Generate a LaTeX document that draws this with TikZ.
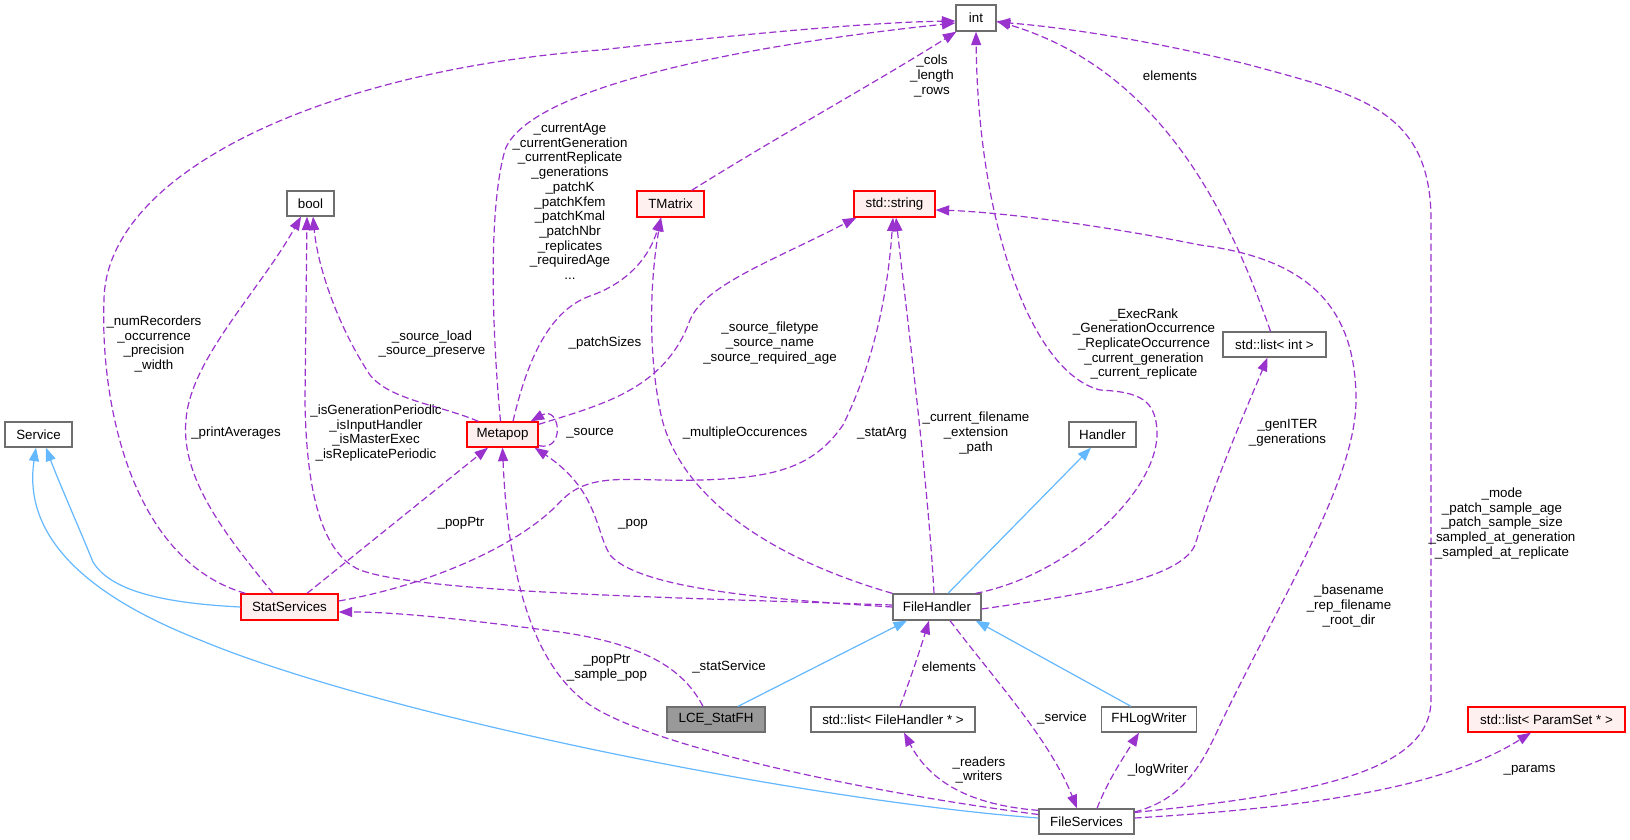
\documentclass[tikz,border=0pt]{standalone}
\usepackage{fontspec}
\setmainfont{Liberation Sans}
\usetikzlibrary{arrows.meta,calc}
\definecolor{edgepurple}{HTML}{9A32CD}
\definecolor{inhblue}{HTML}{63B8FF}
\definecolor{boxgray}{HTML}{6E6E6E}
\definecolor{redfill}{HTML}{FFF0F0}
\definecolor{mainfill}{HTML}{999999}
\begin{document}
\begin{tikzpicture}[x=1pt,y=-1pt,
  every node/.style={font=\fontsize{13.33}{14.7}\selectfont, inner sep=0pt},
  graybox/.style={draw=boxgray, line width=1.3pt, fill=white, minimum height=25pt},
  redbox/.style={draw=red, line width=1.3pt, fill=redfill, minimum height=25pt},
  mainbox/.style={draw=boxgray, line width=1.3pt, fill=mainfill, minimum height=25pt},
  depedge/.style={draw=edgepurple, line width=1.2pt, dash pattern=on 7pt off 3.5pt, -{Triangle[length=13.5pt,width=10pt]}},
  inhedge/.style={draw=inhblue, line width=1.2pt, -{Triangle[length=13.5pt,width=10pt]}},
  lbl/.style={align=center, text=black}
]
\fill[white] (0,0) rectangle (1630,840);
\useasboundingbox (0,0) rectangle (1630,840);

% nodes
\node[graybox, minimum width=40pt, minimum height=26pt] (int) at (976,18) {int};
\node[graybox, minimum width=47pt] (bool) at (310.5,203.5) {bool};
\node[redbox, minimum width=67pt, minimum height=26pt] (tmatrix) at (670.5,204) {TMatrix};
\node[redbox, minimum width=81pt, minimum height=26pt] (string) at (894.5,204) {std::string};
\node[graybox, minimum width=67pt] (service) at (38.5,434.5) {Service};
\node[redbox, minimum width=97pt, minimum height=26pt] (stat) at (289.5,607) {StatServices};
\node[redbox, minimum width=71pt] (metapop) at (502.5,434.5) {Metapop};
\node[graybox, minimum width=88pt, minimum height=26pt] (filehandler) at (937,607) {FileHandler};
\node[mainbox, minimum width=98pt] (lce) at (716,719.5) {LCE\_StatFH};
\node[graybox, minimum width=164pt] (listfh) at (893,719.5) {std::list< FileHandler * >};
\node[graybox, minimum width=95pt] (fileservices) at (1086.5,821.5) {FileServices};
\node[graybox, minimum width=67pt] (handler) at (1102.5,434.5) {Handler};
\node[graybox, minimum width=94.5pt] (fhlog) at (1149,719.5) {FHLogWriter};
\node[redbox, minimum width=157pt] (listps) at (1546.5,719.5) {std::list< ParamSet * >};
\node[graybox, minimum width=103pt] (listint) at (1274.5,344.5) {std::list< int >};

% dependency edges
\draw[depedge] ($(stat.north west)+(5,0)$) .. controls (130,560) and (100,400) .. (104,300) .. controls (106,170) and (330,70) .. (600,50) .. controls (760,32) and (880,22) .. ($(int.west)+(0,3)$);
\draw[depedge] ($(metapop.north)+(-2,0)$) .. controls (492,330) and (488,210) .. (505,150) .. controls (525,95) and (700,50) .. ($(int.west)+(0,5)$);
\draw[depedge] ($(tmatrix.north east)+(-13,0)$) .. controls (780,135) and (880,80) .. ($(int.south west)+(1,0)$);
\draw[depedge] ($(listint.north)+(-4,0)$) .. controls (1228,210) and (1160,70) .. ($(int.east)+(0,3)$);
\draw[depedge] ($(fileservices.east)+(0,-9)$) .. controls (1300,795) and (1431,775) .. (1431,700) -- (1431,220) .. controls (1431,110) and (1360,95) .. (1250,65) .. controls (1150,40) and (1060,27) .. ($(int.east)+(0,4)$);
\draw[depedge] ($(filehandler.north east)+(-6,0)$) .. controls (1070,575) and (1160,490) .. (1157,430) .. controls (1155,400) and (1140,392) .. (1100,390) .. controls (1030,372) and (978,220) .. (int.south);
\draw[depedge] ($(filehandler.east)+(0,2)$) .. controls (1080,595) and (1180,580) .. (1195,545) .. controls (1215,480) and (1250,400) .. ($(listint.south)+(-7,0)$);
\draw[depedge] ($(metapop.north west)+(12,0)$) .. controls (440,405) and (390,400) .. (370,375) .. controls (340,330) and (318,270) .. ($(bool.south)+(2.5,0)$);
\draw[depedge] ($(stat.north)+(-16.5,0)$) .. controls (230,540) and (180,480) .. (186,420) .. controls (190,360) and (260,290) .. ($(bool.south)+(-9.5,0)$);
\draw[depedge] ($(filehandler.west)+(0,-2)$) .. controls (650,597) and (420,592) .. (360,570) .. controls (318,552) and (306,480) .. (305,400) -- ($(bool.south)+(-3.5,0)$);
\draw[depedge] ($(stat.north)+(17.5,0)$) -- ($(metapop.south)+(-14.5,0)$);
\draw[depedge] ($(metapop.south east)+(0,-2)$) .. controls (566,452) and (560,405) .. ($(metapop.north east)+(-8,0)$);
\draw[depedge] (filehandler.west) .. controls (780,600) and (640,590) .. (610,555) .. controls (595,530) and (598,490) .. ($(metapop.south east)+(-4,0)$);
\draw[depedge] (filehandler.north west) .. controls (760,555) and (675,490) .. (660,410) .. controls (648,350) and (650,280) .. ($(tmatrix.south)+(-9.5,0)$);
\draw[depedge] ($(metapop.north)+(10.5,0)$) .. controls (525,370) and (545,312) .. (590,296) .. controls (630,282) and (650,255) .. ($(tmatrix.south)+(-9.5,0)$);
\draw[depedge] ($(stat.east)+(0,-6)$) .. controls (430,585) and (520,545) .. (560,502) .. controls (590,470) and (630,482) .. (700,480) .. controls (780,478) and (815,465) .. (843,425) .. controls (875,360) and (888,290) .. ($(string.south)+(-1.5,0)$);
\draw[depedge] ($(metapop.north east)+(0,3)$) .. controls (600,405) and (665,390) .. (690,320) .. controls (705,285) and (770,262) .. ($(string.south west)+(3,0)$);
\draw[depedge] ($(filehandler.north)+(-3,0)$) .. controls (928,480) and (905,300) .. ($(string.south)+(1.5,0)$);
\draw[depedge] ($(fileservices.east)+(0,-9.5)$) .. controls (1180,800) and (1200,770) .. (1220,725) .. controls (1280,600) and (1356,480) .. (1356,400) .. controls (1356,300) and (1300,258) .. (1200,245) .. controls (1100,225) and (1000,212) .. ($(string.east)+(0,6)$);
\draw[depedge] ($(lce.north)+(-13,0)$) .. controls (685,672) and (650,645) .. (560,632) .. controls (470,620) and (400,612) .. ($(stat.east)+(0,5)$);
\draw[depedge] ($(fileservices.west)+(0,-7)$) .. controls (850,790) and (650,745) .. (590,705) .. controls (535,668) and (508,580) .. (metapop.south);
\draw[depedge] ($(listfh.north)+(7,0)$) .. controls (910,680) and (920,650) .. ($(filehandler.south)+(-8,0)$);
\draw[depedge] ($(fileservices.north west)+(0,2)$) .. controls (970,805) and (930,782) .. ($(listfh.south)+(11,0)$);
\draw[depedge] ($(filehandler.south)+(13,0)$) .. controls (995,680) and (1050,740) .. ($(fileservices.north)+(-9.5,0)$);
\draw[depedge] ($(fileservices.north)+(10.5,0)$) .. controls (1108,780) and (1125,755) .. ($(fhlog.south)+(-10,0)$);
\draw[depedge] ($(fileservices.east)+(0,-3.5)$) .. controls (1300,808) and (1440,790) .. ($(listps.south)+(-15.5,0)$);

% inheritance edges
\draw[inhedge] ($(filehandler.north)+(11,0)$) -- ($(handler.south)+(-11.5,0)$);
\draw[inhedge] ($(lce.north)+(22,0)$) -- ($(filehandler.south)+(-30,0)$);
\draw[inhedge] ($(fhlog.north)+(-18,0)$) -- ($(filehandler.south east)+(-6,0)$);
\draw[inhedge] (stat.west) .. controls (160,603) and (110,590) .. (93,562) .. controls (80,530) and (58,480) .. ($(service.south)+(7.5,0)$);
\draw[inhedge] ($(fileservices.west)+(0,-3.5)$) .. controls (800,800) and (380,715) .. (200,640) .. controls (60,585) and (25,520) .. ($(service.south)+(-2.5,0)$);

% labels
\node[lbl] (l1) at (154,344) {\_numRecorders\\\_occurrence\\\_precision\\\_width};
\node[lbl] (l2) at (570,201.5) {\_currentAge\\\_currentGeneration\\\_currentReplicate\\\_generations\\\_patchK\\\_patchKfem\\\_patchKmal\\\_patchNbr\\\_replicates\\\_requiredAge\\...};
\node[lbl] (l3) at (932,76) {\_cols\\\_length\\\_rows};
\node[lbl] (l4) at (1170,76) {elements};
\node[lbl] (l5) at (1502,523.5) {\_mode\\\_patch\_sample\_age\\\_patch\_sample\_size\\\_sampled\_at\_generation\\\_sampled\_at\_replicate};
\node[lbl] (l6) at (1144,344) {\_ExecRank\\\_GenerationOccurrence\\\_ReplicateOccurrence\\\_current\_generation\\\_current\_replicate};
\node[lbl] (l7) at (1287.5,433) {\_genITER\\\_generations};
\node[lbl] (l8) at (432,344) {\_source\_load\\\_source\_preserve};
\node[lbl] (l9) at (236,433) {\_printAverages};
\node[lbl] (l10) at (376,433) {\_isGenerationPeriodic\\\_isInputHandler\\\_isMasterExec\\\_isReplicatePeriodic};
\node[lbl] (l11) at (461,523) {\_popPtr};
\node[lbl] (l12) at (590,433) {\_source};
\node[lbl] (l13) at (633,524) {\_pop};
\node[lbl] (l14) at (745,433) {\_multipleOccurences};
\node[lbl] (l15) at (882,433) {\_statArg};
\node[lbl] (l16) at (976,433) {\_current\_filename\\\_extension\\\_path};
\node[lbl] (l17) at (770,343) {\_source\_filetype\\\_source\_name\\\_source\_required\_age};
\node[lbl] (l18) at (605,343) {\_patchSizes};
\node[lbl] (l19) at (1349,606) {\_basename\\\_rep\_filename\\\_root\_dir};
\node[lbl] (l20) at (729,667) {\_statService};
\node[lbl] (l21) at (607,667.5) {\_popPtr\\\_sample\_pop};
\node[lbl] (l22) at (949,667) {elements};
\node[lbl] (l23) at (979,770) {\_readers\\\_writers};
\node[lbl] (l24) at (1062,718) {\_service};
\node[lbl] (l25) at (1158,770) {\_logWriter};
\node[lbl] (l26) at (1529.5,770) {\_params};
\end{tikzpicture}
\end{document}
